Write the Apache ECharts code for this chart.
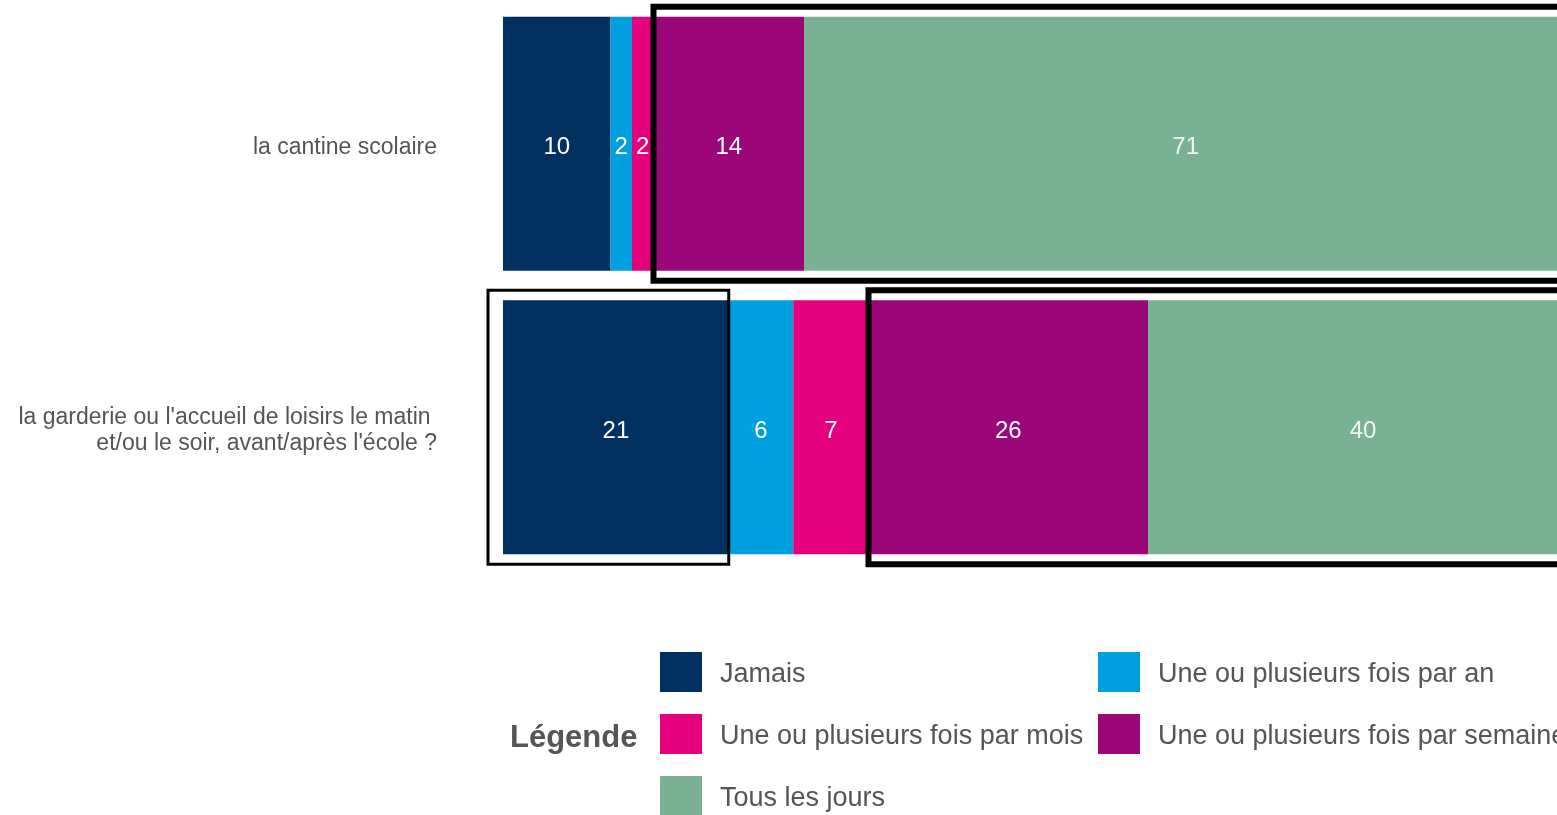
<!DOCTYPE html>
<html>
<head>
<meta charset="utf-8">
<script src="https://cdn.jsdelivr.net/npm/echarts@6/dist/echarts.min.js"></script>
<style>
  html, body { margin: 0; padding: 0; background: #ffffff; overflow: hidden; }
  #chart { width: 1620px; height: 815px; }
</style>
</head>
<body>
<div id="chart"></div>
<script>
// Questions (rows) and answer shares in percent
const categories = [
  'la cantine scolaire',
  "la garderie ou l'accueil de loisirs le matin \net/ou le soir, avant/après l'école ?"
];
const seriesNames = [
  'Jamais',
  'Une ou plusieurs fois par an',
  'Une ou plusieurs fois par mois',
  'Une ou plusieurs fois par semaine',
  'Tous les jours'
];
const jamais       = [10, 21];
const parAn        = [2, 6];
const parMois      = [2, 7];
const parSemaine   = [14, 26];
const tousLesJours = [71, 40];

const colors = ['#00305f', '#009fdf', '#e5007e', '#9b0679', '#7ab195'];
const labelColors = ['#ffffff', '#ffffff', '#ffffff', '#ffffff', '#eef8f1'];

const values = [jamais, parAn, parMois, parSemaine, tousLesJours];
const FONT = '"Liberation Sans", Arial, sans-serif';
const GAP = 0.104;

const chart = echarts.init(document.getElementById('chart'), null, { renderer: 'canvas' });

const series = seriesNames.map((name, i) => ({
  name: name,
  type: 'bar',
  stack: 'total',
  data: values[i],
  barCategoryGap: (GAP * 100) + '%',
  itemStyle: { color: colors[i] },
  label: {
    show: true,
    position: 'inside',
    offset: [0, 4],
    color: labelColors[i],
    fontSize: 24,
    fontFamily: FONT
  },
  emphasis: { disabled: true }
}));

const legendCommon = {
  orient: 'vertical',
  top: 652,
  height: 200,
  padding: 0,
  icon: 'rect',
  itemWidth: 42,
  itemHeight: 40,
  itemGap: 22,
  selectedMode: false,
  formatter: name => '{s| }\n{t|' + name + '}',
  textStyle: {
    padding: [0, 0, 0, 13],
    rich: {
      s: { fontSize: 1, lineHeight: 6 },
      t: { fontSize: 27, lineHeight: 31, color: '#555555', fontFamily: FONT }
    }
  }
};

chart.setOption({
  backgroundColor: '#ffffff',
  animation: false,
  title: {
    text: 'Légende',
    left: 510,
    top: 723,
    padding: 0,
    textStyle: { fontSize: 31, fontWeight: 'bold', color: '#555555', fontFamily: FONT }
  },
  grid: { left: 503, top: 2, width: 1075, height: 567, containLabel: false },
  xAxis: { type: 'value', min: 0, max: 100, show: false },
  yAxis: {
    type: 'category',
    inverse: true,
    data: categories,
    axisLine: { show: false },
    axisTick: { show: false },
    splitLine: { show: false },
    axisLabel: {
      margin: 66,
      align: 'right',
      // a thin spacer line on top nudges the text block slightly downward
      formatter: v => '{s| }\n' + v.split('\n').map(l => '{t|' + l + '}').join('\n'),
      rich: {
        s: { fontSize: 1, lineHeight: 7 },
        t: { fontSize: 23, lineHeight: 26, color: '#555555', fontFamily: FONT, align: 'right' }
      }
    }
  },
  legend: [
    Object.assign({}, legendCommon, {
      left: 660,
      data: [seriesNames[0], seriesNames[2], seriesNames[4]]
    }),
    Object.assign({}, legendCommon, {
      left: 1098,
      data: [seriesNames[1], seriesNames[3]]
    })
  ],
  series: series
});

// Highlight frames drawn around groups of segments, placed through the axes
function frames() {
  const W = chart.getWidth();
  const y0 = chart.convertToPixel({ yAxisIndex: 0 }, 0);
  const y1 = chart.convertToPixel({ yAxisIndex: 0 }, 1);
  const band = Math.abs(y1 - y0);
  const half = band * (1 - GAP) / 2;
  const px = v => chart.convertToPixel({ xAxisIndex: 0 }, v);

  function box(xa, xb, yc, lw) {
    return {
      type: 'rect',
      z: 100,
      shape: { x: xa, y: yc - half - 10, width: xb - xa, height: 2 * half + 20 },
      style: { fill: 'none', stroke: '#000000', lineWidth: lw }
    };
  }

  const start0 = jamais[0] + parAn[0] + parMois[0];
  const start1 = jamais[1] + parAn[1] + parMois[1];
  return [
    box(px(start0), W + 40, y0, 6),
    box(px(start1), W + 40, y1, 6),
    box(px(0) - 15, px(jamais[1]), y1, 3)
  ];
}

chart.setOption({ graphic: frames() });
</script>
</body>
</html>
